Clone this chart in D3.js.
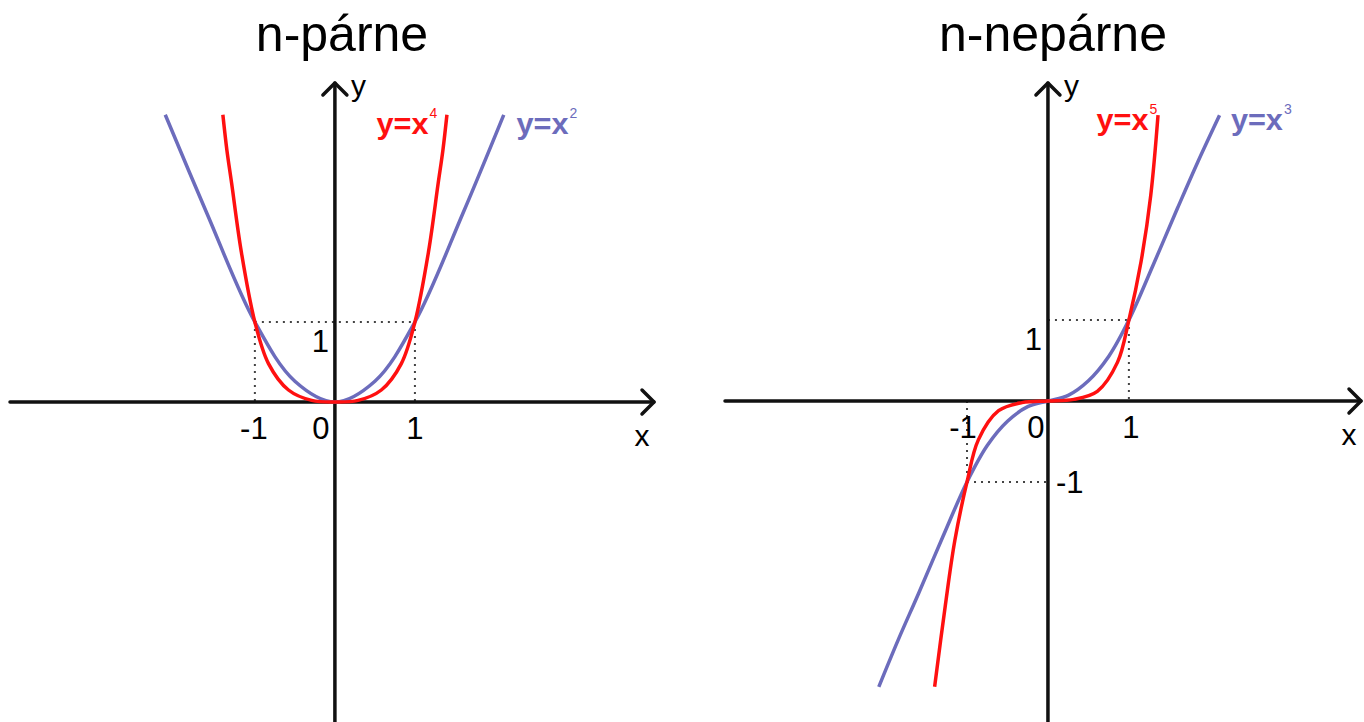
<!DOCTYPE html>
<html><head><meta charset="utf-8">
<script src="https://cdn.jsdelivr.net/npm/d3@7"></script>
<style>html,body{margin:0;padding:0;background:#fff;}svg{display:block;}</style>
</head><body>
<svg id="chart" width="1364" height="722"></svg>
<script>
// ---- data ----
const titles = ["n-párne", "n-nepárne"];
const curveLabels = [["y=x", "4", "y=x", "2"], ["y=x", "5", "y=x", "3"]];
const xTickLabels = ["-1", "0", "1"];
const xTickValues = [-1, 0, 1];

// n even: y = x^2 (blue)
const sqX = [-2.12, -1.6, -1.0, -0.5, 0, 0.5, 1.0, 1.6, 2.11];
const sqY = [3.59, 2.36, 1.0, 0.26, 0, 0.26, 1.0, 2.36, 3.59];
// n even: y = x^4 (red)
const qdX = [-1.40, -1.35, -1.29, -1.17, -1.0, -0.83, -0.58, -0.29, 0, 0.29, 0.58, 0.83, 1.0, 1.17, 1.29, 1.35, 1.40];
const qdY = [3.59, 3.15, 2.73, 1.88, 1.0, 0.48, 0.15, 0.02, 0, 0.02, 0.15, 0.48, 1.0, 1.88, 2.73, 3.15, 3.59];
// n odd: y = x^3 (blue)
const cbX = [-2.09, -1.85, -1.6, -1.3, -1.0, -0.75, -0.5, -0.25, 0, 0.25, 0.5, 0.75, 1.0, 1.3, 1.6, 1.85, 2.12];
const cbY = [-3.53, -2.95, -2.38, -1.68, -1.0, -0.55, -0.25, -0.07, 0, 0.07, 0.25, 0.55, 1.0, 1.68, 2.38, 2.95, 3.53];
// n odd: y = x^5 (red)
const qnX = [-1.40, -1.27, -1.15, -1.0, -0.86, -0.61, -0.32, 0, 0.32, 0.61, 0.86, 1.0, 1.15, 1.27, 1.36];
const qnY = [-3.53, -2.54, -1.72, -1.0, -0.48, -0.12, -0.02, 0, 0.02, 0.12, 0.48, 1.0, 1.72, 2.54, 3.53];

// ---- drawing ----
const RED = "#ff1010", BLUE = "#6c6cbc";
const svg = d3.select("#chart");
const FONT = "'Liberation Sans', Arial, sans-serif";

const panels = [
  { title: titles[0], cx: 342, xs: d3.scaleLinear().domain([-4.06, 4.0]).range([10, 655]),
    ys: d3.scaleLinear().domain([-4, 4]).range([722, 82]),
    blue: sqX.map((x, i) => [x, sqY[i]]), red: qdX.map((x, i) => [x, qdY[i]]),
    labels: curveLabels[0], redLab: [0.52, 3.35], blueLab: [2.27, 3.35],
    dots: [[[-1, 1], [1, 1]], [[-1, 1], [-1, 0]], [[1, 1], [1, 0]]],
    yTicks: [[1, "1", "left", 30]], xTickDx: [-1, -14, 0] },
  { title: titles[1], cx: 1053, xs: d3.scaleLinear().domain([-3.99, 3.88]).range([725, 1362]),
    ys: d3.scaleLinear().domain([-3.94, 3.94]).range([720, 82]),
    blue: cbX.map((x, i) => [x, cbY[i]]), red: qnX.map((x, i) => [x, qnY[i]]),
    labels: curveLabels[1], redLab: [0.6, 3.35], blueLab: [2.26, 3.35],
    dots: [[[0, 1], [1, 1]], [[1, 1], [1, 0]], [[-1, -1], [0, -1]], [[-1, 0], [-1, -1]]],
    yTicks: [[1, "1", "left", 30], [-1, "-1", "right", 11]], xTickDx: [-4, -12, 2] }
];

panels.forEach(p => {
  const g = svg.append("g");
  const xs = p.xs, ys = p.ys;
  const [x0, x1] = xs.range();
  const [yb, yt] = ys.range();
  const ox = xs(0), oy = ys(0);

  // title
  g.append("text").attr("x", p.cx).attr("y", 51).attr("text-anchor", "middle")
    .attr("font-family", FONT).attr("font-size", 50).attr("fill", "#000").text(p.title);

  // dotted guides
  p.dots.forEach(seg => {
    g.append("line").attr("x1", xs(seg[0][0])).attr("y1", ys(seg[0][1]))
      .attr("x2", xs(seg[1][0])).attr("y2", ys(seg[1][1]))
      .attr("stroke", "#444").attr("stroke-width", 2).attr("stroke-dasharray", "2,5");
  });

  // axes
  const ax = g.append("g").attr("stroke", "#111").attr("stroke-width", 3.5).attr("fill", "none")
    .attr("stroke-linecap", "round").attr("stroke-linejoin", "round");
  ax.append("line").attr("x1", x0).attr("y1", oy).attr("x2", x1 - 1).attr("y2", oy);
  ax.append("line").attr("x1", ox).attr("y1", yb + 5).attr("x2", ox).attr("y2", yt + 1);
  ax.append("path").attr("d", `M${x1 - 13},${oy - 12} L${x1 - 1},${oy} L${x1 - 13},${oy + 12}`);
  ax.append("path").attr("d", `M${ox - 12},${yt + 13} L${ox},${yt + 1} L${ox + 12},${yt + 13}`);

  // curves
  const line = d3.line().x(d => xs(d[0])).y(d => ys(d[1])).curve(d3.curveCatmullRom.alpha(0.5));
  g.append("path").datum(p.blue).attr("d", line).attr("fill", "none")
    .attr("stroke", BLUE).attr("stroke-width", 3.5);
  g.append("path").datum(p.red).attr("d", line).attr("fill", "none")
    .attr("stroke", RED).attr("stroke-width", 3.5);

  // axis letters
  g.append("text").attr("x", ox + 16).attr("y", yt + 14).attr("font-family", FONT)
    .attr("font-size", 30).attr("fill", "#000").text("y");
  g.append("text").attr("x", x1 - 13).attr("y", oy + 44).attr("text-anchor", "middle").attr("font-family", FONT)
    .attr("font-size", 30).attr("fill", "#000").text("x");

  // x ticks labels
  xTickValues.forEach((v, i) => {
    g.append("text").attr("x", xs(v) + p.xTickDx[i]).attr("y", oy + 37).attr("text-anchor", "middle")
      .attr("font-family", FONT).attr("font-size", 31).attr("fill", "#000").text(xTickLabels[i]);
  });
  // y tick labels
  p.yTicks.forEach(t => {
    const left = t[2] === "left";
    g.append("text").attr("x", left ? ox - 6 : ox + 8).attr("y", ys(t[0]) + t[3])
      .attr("text-anchor", left ? "end" : "start")
      .attr("font-family", FONT).attr("font-size", 31).attr("fill", "#000").text(t[1]);
  });

  // curve labels
  function lab(pos, txt, sup, color) {
    g.append("text").attr("x", xs(pos[0])).attr("y", ys(pos[1]))
      .attr("font-family", FONT).attr("font-weight", "bold").attr("font-size", 30)
      .attr("fill", color).attr("textLength", 52).attr("lengthAdjust", "spacingAndGlyphs").text(txt);
    g.append("text").attr("x", xs(pos[0]) + 53).attr("y", ys(pos[1]) - 16)
      .attr("font-family", FONT).attr("font-size", 14).attr("fill", color).text(sup);
  }
  lab(p.redLab, p.labels[0], p.labels[1], RED);
  lab(p.blueLab, p.labels[2], p.labels[3], BLUE);
});
</script>
</body></html>
